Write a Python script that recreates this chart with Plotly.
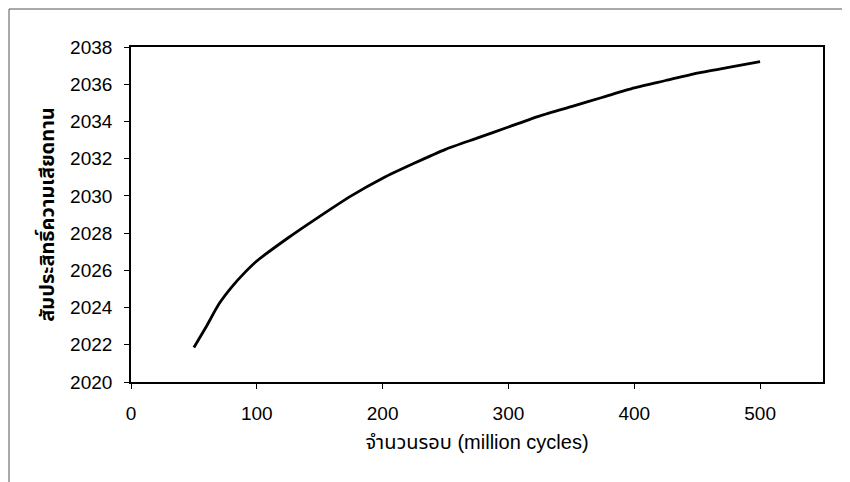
import plotly.graph_objects as go

cycles = [50, 60, 70, 80, 90, 100, 125, 150, 175, 200, 225, 250, 275, 300,
          325, 350, 375, 400, 425, 450, 475, 500]
friction = [2021.85, 2023.0, 2024.2, 2025.1, 2025.85, 2026.5, 2027.75, 2028.9,
            2030.0, 2030.95, 2031.75, 2032.5, 2033.1, 2033.7, 2034.3, 2034.8,
            2035.3, 2035.8, 2036.2, 2036.6, 2036.9, 2037.22]

x_title = "จำนวนรอบ (million cycles)"
y_title = "สัมประสิทธิ์ความเสียดทาน"

font_family = "Liberation Sans, Arial, Noto Sans Thai, Noto Sans, sans-serif"

L, R, T, B = 123, 35, 39, 108
W, H = 850, 482
PW, PH = W - L - R, H - T - B

fig = go.Figure()
fig.add_trace(go.Scatter(x=cycles, y=friction, mode="lines",
                         line=dict(color="black", width=2.8, shape="spline", smoothing=0.6),
                         showlegend=False, hoverinfo="skip"))

axis_common = dict(showgrid=False, zeroline=False, showline=True, linecolor="black",
                   linewidth=1.6, mirror=True, ticks="outside", ticklen=5,
                   tickcolor="black", tickwidth=1,
                   tickfont=dict(family=font_family, size=19, color="black"))

fig.update_xaxes(range=[0, 550], dtick=100, tick0=0, ticklabelstandoff=8,
                 title=dict(text=x_title, standoff=12,
                            font=dict(family=font_family, size=20, color="black")),
                 **axis_common)
fig.update_yaxes(range=[2020, 2038], dtick=2, tick0=2020, ticklabelstandoff=8,
                 title=dict(text="<b>" + y_title + "</b>", standoff=10,
                            font=dict(family=font_family, size=20, color="black")),
                 **axis_common)

# outer scanned frame lines
fx = (1 - L) / PW
fy_top = (H - B - 1) / PH
fig.add_shape(type="line", xref="paper", yref="paper",
              x0=fx, x1=fx, y0=-B / PH, y1=fy_top,
              line=dict(color="#555555", width=1))
fig.add_shape(type="line", xref="paper", yref="paper",
              x0=fx, x1=(W - L) / PW, y0=fy_top, y1=fy_top,
              line=dict(color="#555555", width=1))

fig.update_layout(width=W, height=H,
                  margin=dict(l=L, r=R, t=T, b=B),
                  paper_bgcolor="white", plot_bgcolor="white",
                  font=dict(family=font_family, color="black"))

fig.write_html("out.html")
